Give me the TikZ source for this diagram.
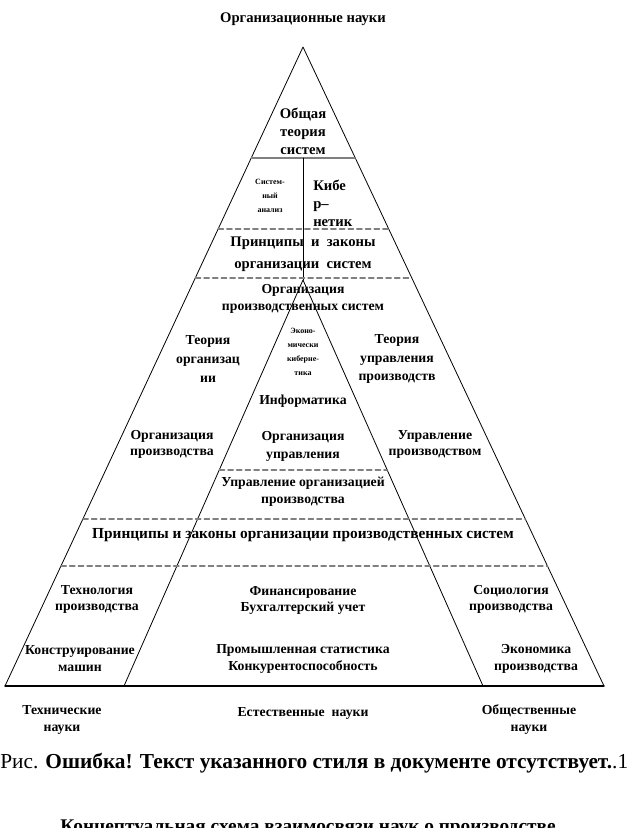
\documentclass[tikz,border=0pt]{standalone}
\usepackage{fontspec}
\setmainfont{Liberation Serif}
\usetikzlibrary{calc}

\begin{document}
\begin{tikzpicture}[line cap=round,line join=round,x=0.75pt,y=-0.75pt,
  edge/.style={line width=0.6pt},
  sep/.style={line width=0.9pt,color=gray,dash pattern=on 4pt off 2.5pt},
  lbl/.style={font=\bfseries\fontsize{10.3}{12.75}\selectfont,align=center,inner sep=0pt},
  big/.style={font=\bfseries\fontsize{11}{13.5}\selectfont,align=center,inner sep=0pt},
  tiny/.style={font=\bfseries\fontsize{6}{10.5}\selectfont,align=center,inner sep=0pt}]
\useasboundingbox (0,0) rectangle (628,828);
%\draw[red] (0,0) rectangle (628,828);
\coordinate (A) at (303,47);
\coordinate (B) at (5,686);
\coordinate (C) at (604,686);
\coordinate (D) at (303,280);
\coordinate (E) at (124,686);
\coordinate (F) at (483,686);
\draw [edge] (B)-- (A)-- (C);
\draw [line width=0.9pt] (B)-- (C);
\draw [edge] (E)-- (D)-- (F);
\draw [line width=0.9pt,color=gray] ($(A)!0.1737!(B)$)-- ($(A)!0.1737!(C)$);
\draw [edge] (303,158)-- (D);
\draw [sep] ($(A)!0.2848!(B)$)-- ($(A)!0.2848!(C)$);
\draw [sep] ($(A)!0.3615!(B)$)-- ($(A)!0.3615!(C)$);
\draw [sep] ($(D)!0.468!(E)$)-- ($(D)!0.468!(F)$);
\draw [sep] ($(A)!0.7387!(B)$)-- ($(A)!0.7387!(C)$);
\draw [sep] ($(A)!0.8122!(B)$)-- ($(A)!0.8122!(C)$);
% top
\node[lbl,font=\bfseries\fontsize{11}{13}\selectfont] (orgn) at (303,19) {Организационные науки};
\node[big] (gts) at (303,131) {Общая\\теория\\систем};
\node[tiny] (sa) at (270,196) {Систем-\\ный\\анализ};
\node[big,align=left,anchor=west] (kib) at (313,203) {Кибе\\р–\\нетик};
\node[big,font=\bfseries\fontsize{11}{16.5}\selectfont] (pzs) at (303,254) {Принципы\ \ и\ \ законы\\организации\ \ систем};
% middle
\node[lbl] (ops) at (303,299) {Организация\\производственных систем};
\node[lbl,font=\bfseries\fontsize{10.3}{14}\selectfont] (tor) at (208,359) {Теория\\организац\\ии};
\node[tiny] (ekk) at (303,352) {Эконо-\\мически\\киберне-\\тика};
\node[lbl,font=\bfseries\fontsize{10.3}{14}\selectfont] (tup) at (397,359) {Теория\\управления\\производств};
\node[lbl] (inf) at (303,401) {Информатика};
\node[lbl,font=\bfseries\fontsize{10.3}{13.5}\selectfont] (oup) at (303,446) {Организация\\управления};
\node[lbl,font=\bfseries\fontsize{10.3}{12}\selectfont] (opr) at (172,444) {Организация\\производства};
\node[lbl,font=\bfseries\fontsize{10.3}{12}\selectfont] (upr) at (435,444) {Управление\\производством};
\node[lbl] (uop) at (303,492) {Управление организацией\\производства};
\node[lbl,font=\bfseries\fontsize{11.5}{13}\selectfont] (pzps) at (303,535) {Принципы и законы организации производственных систем};
% bottom
\node[lbl,font=\bfseries\fontsize{10.3}{12}\selectfont] (tpr) at (97,599) {Технология\\производства};
\node[lbl,font=\bfseries\fontsize{10.3}{12}\selectfont] (fbu) at (303,600) {Финансирование\\Бухгалтерский учет};
\node[lbl,font=\bfseries\fontsize{10.3}{12}\selectfont] (spr) at (511,599) {Социология\\производства};
\node[lbl] (kma) at (80,659) {Конструирование\\машин};
\node[lbl] (psk) at (303,659) {Промышленная статистика\\Конкурентоспособность};
\node[lbl] (epr) at (536,659) {Экономика\\производства};
\node[lbl] (tna) at (62,720) {Технические\\науки};
\node[lbl] (ena) at (303,713) {Естественные\ \ науки};
\node[lbl] (ona) at (529,720) {Общественные\\науки};
% caption
\node[anchor=base west,inner sep=0pt,font=\fontsize{16}{18}\selectfont] (cap) at (0,768) {Рис. \textbf{Ошибка! Текст указанного стиля в документе отсутствует.}.1};
\node[anchor=base,inner sep=0pt,font=\bfseries\fontsize{14.5}{17}\selectfont] (capt) at (308,832) {Концептуальная схема взаимосвязи наук о производстве};
\end{tikzpicture}
\end{document}
